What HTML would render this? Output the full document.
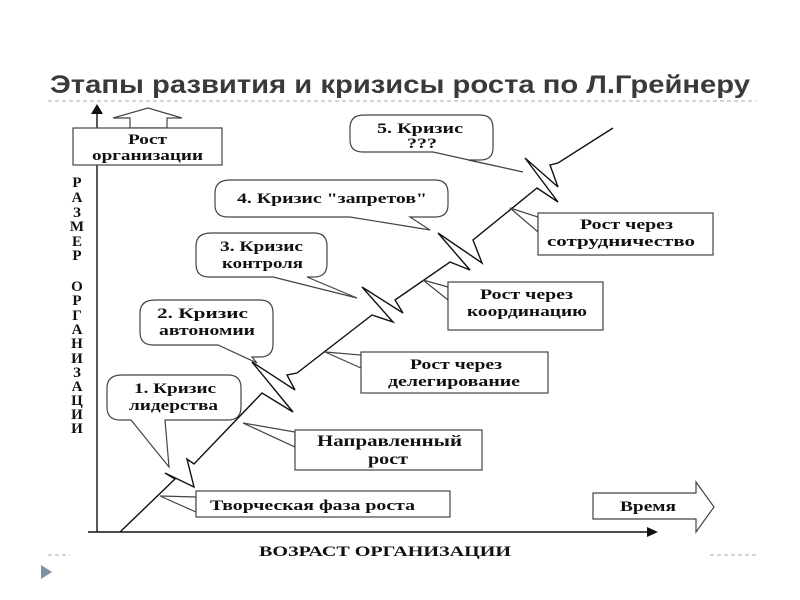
<!DOCTYPE html>
<html><head><meta charset="utf-8"><style>
html,body{margin:0;padding:0;background:#fff;}
svg{display:block;}
.t{font-family:"Liberation Serif","Noto Serif CJK SC",serif;font-weight:bold;font-size:15px;fill:#111;}
</style></head><body>
<svg width="800" height="600" viewBox="0 0 800 600" xmlns="http://www.w3.org/2000/svg">
<text x="50" y="93" textLength="700" lengthAdjust="spacingAndGlyphs" font-family="Liberation Sans, sans-serif" font-weight="bold" font-size="25" fill="#3a3a3a">Этапы развития и кризисы роста по Л.Грейнеру</text>
<line x1="48" y1="101" x2="756" y2="101" stroke="#aab" stroke-dasharray="4,3"/>
<line x1="48" y1="555" x2="70" y2="555" stroke="#aab" stroke-dasharray="4,3"/>
<line x1="710" y1="555" x2="756" y2="555" stroke="#aab" stroke-dasharray="4,3"/>
<polygon points="41,565 52,572 41,579" fill="#7f8fa6"/>
<g stroke="#111" stroke-width="1.4" fill="none">
<line x1="97" y1="112" x2="97" y2="532"/>
<line x1="88" y1="532" x2="650" y2="532"/>
<polyline points="120,532 175,479 165,473 194,487 187,459 194,464 262,393 293,412 252,362 295,390 287,375 297,373 372,315 393,322 362,287 403,313 395,300 450,262 470,270 438,233 482,263 473,240 537,188 558,202 525,158 558,187 550,165 558,163 613,128"/>
</g>
<polygon points="97,104 91,114 103,114" fill="#111"/>
<polygon points="658,532 647,527 647,537" fill="#111"/>
<g stroke="#444" stroke-width="1.2" fill="#fff">
<polygon points="130,128 130,118 113,118 148,108 182,118 167,118 167,128"/>
<rect x="73" y="128" width="149" height="37"/>
<path d="M160,496 L196,497 L196,512 Z"/>
<rect x="196" y="491" width="254" height="26"/>
<path d="M243,423 L295,432 L295,447 Z"/>
<rect x="295" y="430" width="187" height="40"/>
<path d="M325,352 L361,355 L361,368 Z"/>
<rect x="361" y="352" width="187" height="41"/>
<path d="M423,280 L448,287 L448,300 Z"/>
<rect x="448" y="282" width="155" height="48"/>
<path d="M510,208 L538,217 L538,232 Z"/>
<rect x="538" y="213" width="175" height="42"/>
<polygon points="593,493 696,493 696,482 714,507 696,532 696,519 593,519"/>
<path d="M122,375 H228 Q241,375 241,388 V407 Q241,420 228,420 H165 L169,467 L131,420 H120 Q107,420 107,407 V388 Q107,375 122,375 Z"/>
<path d="M155,300 H260 Q273,300 273,313 V344 Q273,357 260,357 H252 L257,363 L218,345 H153 Q140,345 140,332 V313 Q140,300 155,300 Z"/>
<path d="M211,233 H314 Q327,233 327,246 V264 Q327,277 314,277 H307 L357,298 L273,277 H209 Q196,277 196,264 V246 Q196,233 211,233 Z"/>
<path d="M230,180 H435 Q448,180 448,193 V205 Q448,217 435,217 H410 L430,230 L350,217 H228 Q215,217 215,205 V193 Q215,180 230,180 Z"/>
<path d="M364,115 H480 Q493,115 493,128 V148 Q493,160 480,160 H468 L523,172 L433,152 H363 Q350,152 350,140 V128 Q350,115 364,115 Z"/>
</g>
<g class="t" lengthAdjust="spacingAndGlyphs">
<text x="128" y="144" textLength="39" lengthAdjust="spacingAndGlyphs">Рост</text>
<text x="92" y="160" textLength="111" lengthAdjust="spacingAndGlyphs">организации</text>
<text x="210" y="510" textLength="205" lengthAdjust="spacingAndGlyphs">Творческая фаза роста</text>
<text x="317" y="446" textLength="145" lengthAdjust="spacingAndGlyphs" font-size="16">Направленный</text>
<text x="368" y="464" textLength="40" lengthAdjust="spacingAndGlyphs" font-size="16">рост</text>
<text x="410" y="369" textLength="92" lengthAdjust="spacingAndGlyphs">Рост через</text>
<text x="388" y="386" textLength="132" lengthAdjust="spacingAndGlyphs">делегирование</text>
<text x="480" y="299" textLength="93" lengthAdjust="spacingAndGlyphs">Рост через</text>
<text x="467" y="316" textLength="120" lengthAdjust="spacingAndGlyphs">координацию</text>
<text x="580" y="229" textLength="93" lengthAdjust="spacingAndGlyphs">Рост через</text>
<text x="547" y="246" textLength="148" lengthAdjust="spacingAndGlyphs">сотрудничество</text>
<text x="620" y="511" textLength="56" lengthAdjust="spacingAndGlyphs">Время</text>
<text x="134" y="393" textLength="82" lengthAdjust="spacingAndGlyphs">1. Кризис</text>
<text x="129" y="410" textLength="89" lengthAdjust="spacingAndGlyphs">лидерства</text>
<text x="157" y="318" textLength="91" lengthAdjust="spacingAndGlyphs">2. Кризис</text>
<text x="159" y="335" textLength="96" lengthAdjust="spacingAndGlyphs">автономии</text>
<text x="220" y="251" textLength="83" lengthAdjust="spacingAndGlyphs">3. Кризис</text>
<text x="222" y="268" textLength="81" lengthAdjust="spacingAndGlyphs">контроля</text>
<text x="237" y="203" textLength="190" lengthAdjust="spacingAndGlyphs">4. Кризис "запретов"</text>
<text x="377" y="133" textLength="86" lengthAdjust="spacingAndGlyphs">5. Кризис</text>
<text x="407" y="148" textLength="30" lengthAdjust="spacingAndGlyphs">???</text>
<text x="259" y="556" textLength="252" lengthAdjust="spacingAndGlyphs">ВОЗРАСТ ОРГАНИЗАЦИИ</text>
</g>
<g class="t" text-anchor="middle" font-size="13">
<text x="77" y="187">Р</text><text x="77" y="202">А</text><text x="77" y="217">З</text><text x="77" y="231">М</text><text x="77" y="246">Е</text><text x="77" y="260">Р</text>
<text x="77" y="291">О</text><text x="77" y="305">Р</text><text x="77" y="320">Г</text><text x="77" y="334">А</text><text x="77" y="348">Н</text><text x="77" y="363">И</text><text x="77" y="377">З</text><text x="77" y="391">А</text><text x="77" y="405">Ц</text><text x="77" y="419">И</text><text x="77" y="433">И</text>
</g>
</svg>
</body></html>
